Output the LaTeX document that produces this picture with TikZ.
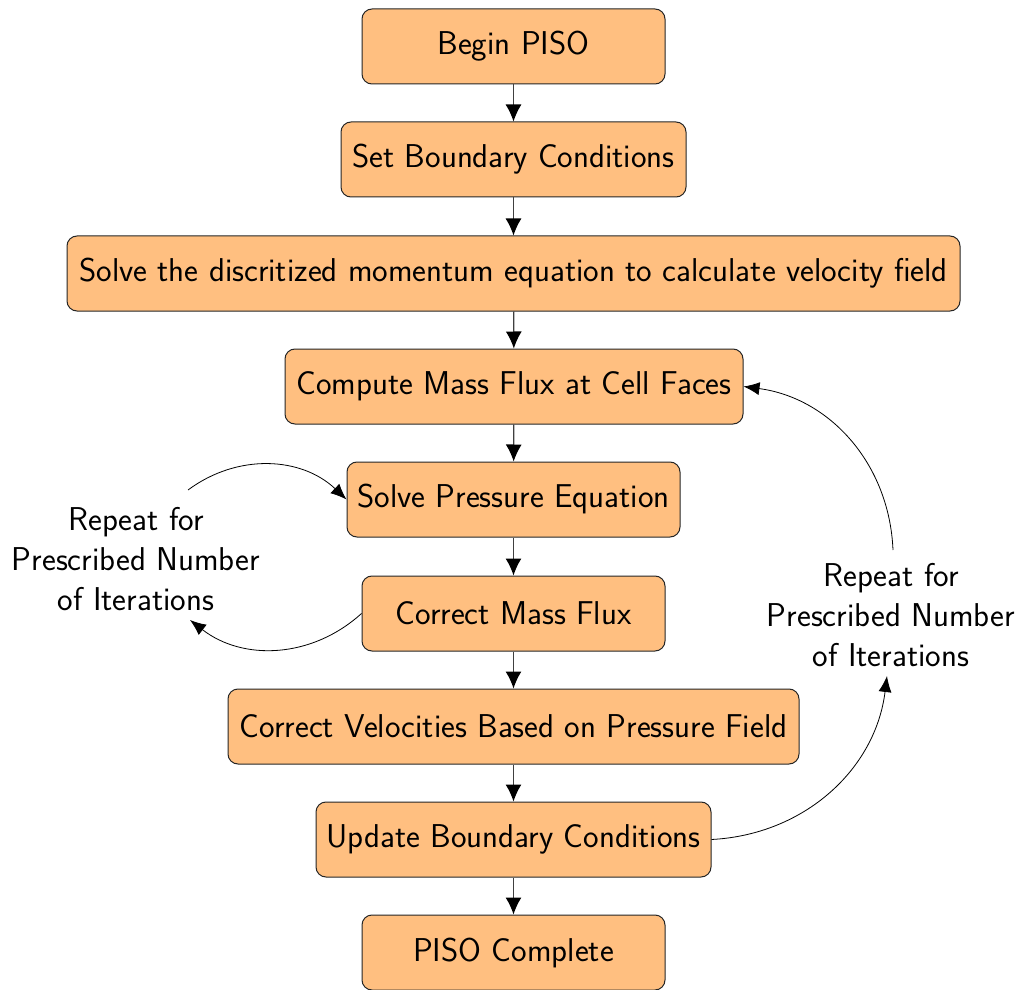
\documentclass[tikz,border=0pt]{standalone}
\usetikzlibrary{arrows.meta}
\definecolor{boxfill}{HTML}{FFBF80}
\begin{document}
\begin{tikzpicture}[x=0.5pt,y=-0.5pt,
  font=\sffamily\fontsize{16.5}{19.8}\selectfont,
  stepbox/.style={draw=black!85,line width=0.5pt,fill=boxfill,rounded corners=5pt,
    minimum height=37.5pt,inner sep=0pt,align=center},
  flow/.style={-{Latex[length=8.5pt,width=8pt,color=black]},line width=0.6pt,draw=black!75},
  loop/.style={-{Latex[length=8pt,width=6.5pt]},line width=0.4pt},
  lbl/.style={align=center,inner sep=0pt}]
\useasboundingbox (0,0) rectangle (1024,990);
\node[stepbox,minimum width=151.5pt] (n1) at (513.5,46.5) {Begin PISO};
\node[stepbox,minimum width=172.5pt] (n2) at (513.5,159.5) {Set Boundary Conditions};
\node[stepbox,minimum width=446.5pt] (n3) at (513.5,273.5) {Solve the discritized momentum equation to calculate velocity field};
\node[stepbox,minimum width=229pt] (n4) at (514,386.5) {Compute Mass Flux at Cell Faces};
\node[stepbox,minimum width=166.5pt] (n5) at (513.5,499.5) {Solve Pressure Equation};
\node[stepbox,minimum width=151.5pt] (n6) at (513.5,613.5) {Correct Mass Flux};
\node[stepbox,minimum width=285.5pt] (n7) at (513.5,726.5) {Correct Velocities Based on Pressure Field};
\node[stepbox,minimum width=197.5pt] (n8) at (513.5,839.5) {Update Boundary Conditions};
\node[stepbox,minimum width=151.5pt] (n9) at (513.5,952.5) {PISO Complete};
\node[lbl] (L) at (136,559) {Repeat for\\Prescribed Number\\of Iterations};
\node[lbl] (R) at (891,615) {Repeat for\\Prescribed Number\\of Iterations};
\foreach \a/\b in {n1/n2,n2/n3,n3/n4,n4/n5,n5/n6,n6/n7,n7/n8,n8/n9}
  \draw[flow] (\a) -- (\b);
\coordinate (Lt) at (188,490);
\coordinate (Lb) at (190,620);
\coordinate (Rt) at (893,550);
\coordinate (Rb) at (887,676);
\draw[loop] (Lt) to[bend left=40] (n5.west);
\draw[loop] (n6.west) to[bend left=40] (Lb);
\draw[loop] (n8.east) to[bend right=40] (Rb);
\draw[loop] (Rt) to[bend right=40] (n4.east);
\end{tikzpicture}
\end{document}
